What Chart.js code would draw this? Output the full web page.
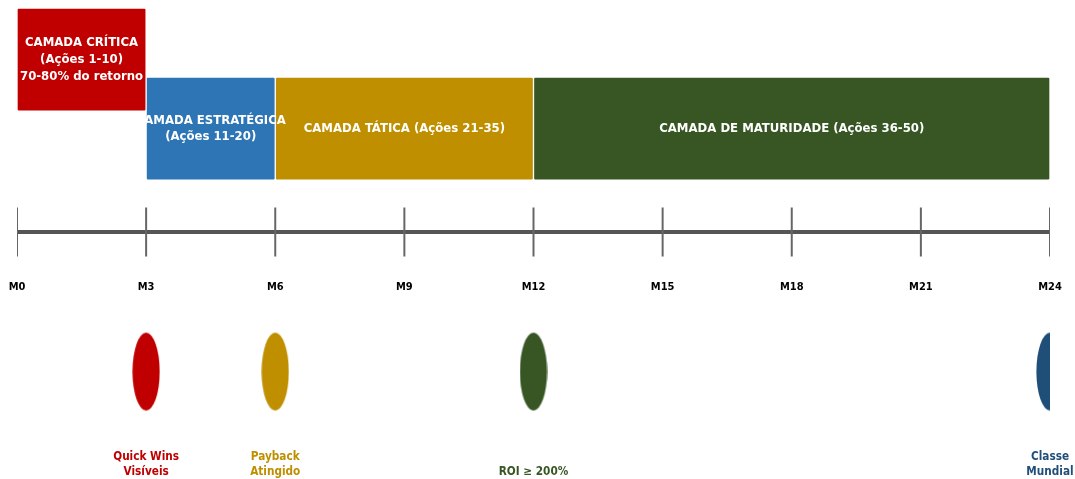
<!DOCTYPE html>
<html>
<head>
<meta charset="utf-8">
<script src="https://cdn.jsdelivr.net/npm/chart.js@4/dist/chart.umd.min.js"></script>
<style>
  html, body { margin: 0; padding: 0; background: #ffffff; }
  #wrap { width: 1075px; height: 479px; position: relative; }
</style>
</head>
<body>
<div id="wrap"><canvas id="c"></canvas></div>
<script>
// ---------- DATA ----------
const layerNames = [
  ['CAMADA CRÍTICA', '(Ações 1-10)', '70-80% do retorno'],
  ['CAMADA ESTRATÉGICA', '(Ações 11-20)'],
  ['CAMADA TÁTICA (Ações 21-35)'],
  ['CAMADA DE MATURIDADE (Ações 36-50)']
];
const layerStart = [0, 3, 6, 12];
const layerEnd = [3, 6, 12, 24];

const tickMonths = [0, 3, 6, 9, 12, 15, 18, 21, 24];
const tickLabels = ['M0', 'M3', 'M6', 'M9', 'M12', 'M15', 'M18', 'M21', 'M24'];

const milestoneMonths = [3, 6, 12, 24];
const milestoneLabels = [
  ['Quick Wins', 'Visíveis'],
  ['Payback', 'Atingido'],
  ['ROI ≥ 200%'],
  ['Classe', 'Mundial']
];

// ---------- LAYOUT / STYLE ----------
const layerRow = [5, 3, 3, 3];          // vertical level of each layer bar
const layerColors = ['#C00000', '#2E75B6', '#BF8F00', '#375623'];
const milestoneColors = ['#C00000', '#BF8F00', '#375623', '#1F4E79'];
const TIMELINE_LEVEL = 0;
const MILESTONE_LEVEL = -4.05;
const MILESTONE_TEXT_LEVEL = -6.96;
const TICKLABEL_LEVEL = -1.6;
const FONT = "'DejaVu Sans Condensed', 'DejaVu Sans', sans-serif";

function ellipseImage(color) {
  const w = 28, h = 80;
  const cv = document.createElement('canvas');
  cv.width = w; cv.height = h;
  const g = cv.getContext('2d');
  g.fillStyle = color;
  g.beginPath();
  g.ellipse(w / 2, h / 2, 13.6, 39, 0, 0, Math.PI * 2);
  g.fill();
  return cv;
}
const ellipseImgs = milestoneColors.map(ellipseImage);

const labelPlugin = {
  id: 'labels',
  afterDatasetsDraw(chart) {
    const ctx = chart.ctx;
    const xs = chart.scales.x, ys = chart.scales.y;
    ctx.save();
    ctx.textAlign = 'center';
    ctx.textBaseline = 'middle';
    // bar labels
    const meta = chart.getDatasetMeta(0);
    ctx.fillStyle = '#ffffff';
    ctx.font = 'bold 13px ' + FONT;
    meta.data.forEach((el, i) => {
      const p = el.getCenterPoint();
      const lines = layerNames[i];
      const lh = 16.8;
      const y0 = p.y - (lines.length - 1) * lh / 2;
      lines.forEach((t, k) => ctx.fillText(t, p.x, y0 + k * lh));
    });
    // tick labels
    ctx.fillStyle = '#000000';
    ctx.font = 'bold 11px ' + FONT;
    tickMonths.forEach((m, i) => {
      ctx.fillText(tickLabels[i], xs.getPixelForValue(m), ys.getPixelForValue(TICKLABEL_LEVEL));
    });
    // milestone labels
    ctx.font = 'bold 11.7px ' + FONT;
    milestoneMonths.forEach((m, i) => {
      const x = xs.getPixelForValue(m);
      const yb = ys.getPixelForValue(MILESTONE_TEXT_LEVEL);
      const lines = milestoneLabels[i];
      const lh = 15;
      ctx.fillStyle = milestoneColors[i];
      lines.forEach((t, k) => ctx.fillText(t, x, yb - (lines.length - 1 - k) * lh));
    });
    ctx.restore();
  }
};

new Chart(document.getElementById('c'), {
  type: 'bar',
  data: {
    datasets: [
      {
        type: 'bar',
        indexAxis: 'y',
        data: layerStart.map((s, i) => ({ x: [s, layerEnd[i]], y: layerRow[i] })),
        backgroundColor: layerColors,
        borderColor: '#ffffff',
        borderWidth: 1,
        borderSkipped: false,
        borderRadius: 2,
        barThickness: 103,
        clip: 0,
        order: 3
      },
      {
        type: 'line',
        data: [{ x: tickMonths[0], y: TIMELINE_LEVEL }, { x: tickMonths[tickMonths.length - 1], y: TIMELINE_LEVEL }],
        borderColor: '#555555',
        borderWidth: 4,
        pointRadius: 0,
        pointHoverRadius: 0,
        clip: 0,
        order: 2
      },
      {
        type: 'scatter',
        data: tickMonths.map(m => ({ x: m, y: TIMELINE_LEVEL })),
        pointStyle: 'line',
        rotation: 90,
        pointRadius: 24.5,
        pointHoverRadius: 24.5,
        borderWidth: 2,
        borderColor: '#666666',
        clip: 0,
        order: 1
      },
      {
        type: 'scatter',
        data: milestoneMonths.map(m => ({ x: m, y: MILESTONE_LEVEL })),
        pointStyle: (c) => ellipseImgs[c.dataIndex],
        pointRadius: 14,
        pointHoverRadius: 14,
        clip: 0,
        order: 0
      }
    ]
  },
  options: {
    responsive: true,
    maintainAspectRatio: false,
    animation: false,
    events: [],
    layout: { autoPadding: false, padding: { left: 17, right: 25, top: 0, bottom: 0 } },
    plugins: { legend: { display: false }, tooltip: { enabled: false } },
    scales: {
      x: { type: 'linear', min: 0, max: 24, offset: false, display: false },
      y: { type: 'linear', min: -7.1675, max: 6.7325, offset: false, display: false }
    }
  },
  plugins: [labelPlugin]
});
</script>
</body>
</html>
